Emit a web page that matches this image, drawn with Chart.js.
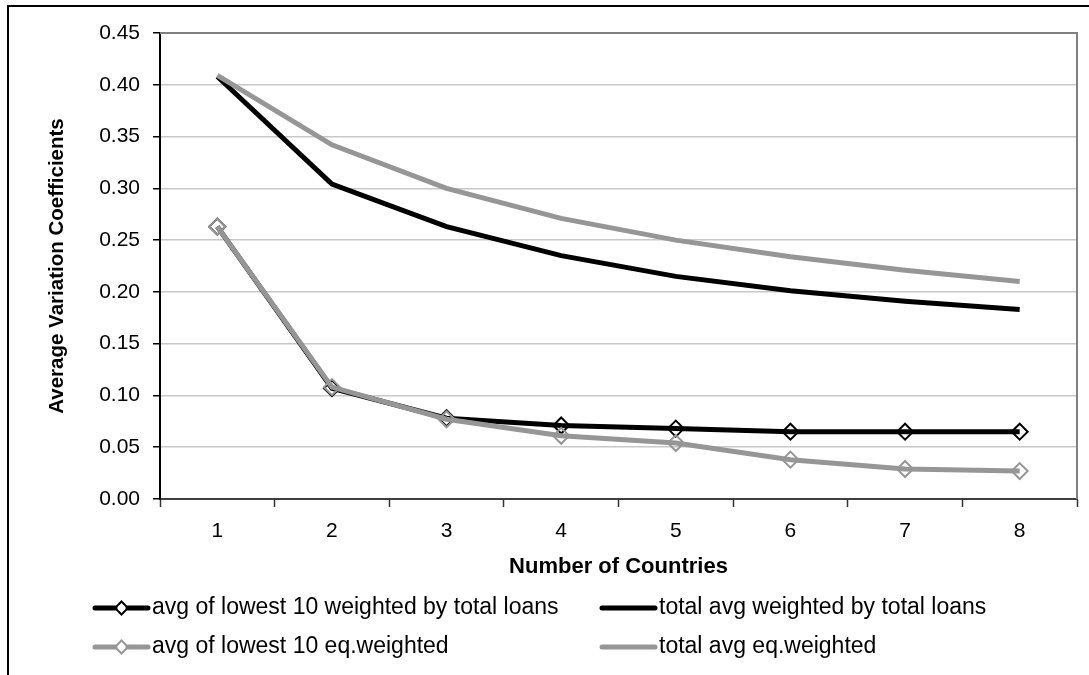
<!DOCTYPE html>
<html>
<head>
<meta charset="utf-8">
<script src="https://cdn.jsdelivr.net/npm/chart.js@4"></script>
<style>
  html, body { margin: 0; padding: 0; background: #fff; }
  canvas { display: block; }
</style>
</head>
<body>
<canvas id="chart" width="1089" height="675"></canvas>
<script>
// Number of countries (x categories)
const countries = ['1', '2', '3', '4', '5', '6', '7', '8'];

// Series values
const lowestWeighted = [0.263, 0.107, 0.078, 0.071, 0.068, 0.065, 0.065, 0.065];
const totalWeighted  = [0.408, 0.304, 0.263, 0.235, 0.215, 0.201, 0.191, 0.183];
const lowestEq       = [0.263, 0.108, 0.077, 0.061, 0.054, 0.038, 0.029, 0.027];
const totalEq        = [0.409, 0.342, 0.300, 0.271, 0.250, 0.234, 0.221, 0.210];

const seriesLabels = [
  'avg of lowest 10 weighted by total loans',
  'total avg weighted by total loans',
  'avg of lowest 10 eq.weighted',
  'total avg eq.weighted'
];

const BLACK = '#000000';
const GREY = '#969696';
const FONT = "'Liberation Sans', Arial, sans-serif";

// Outer frame (left + top edges only are visible) and plot border
const framePlugin = {
  id: 'frame',
  beforeDraw(chart) {
    const ctx = chart.ctx;
    ctx.save();
    ctx.fillStyle = '#fff';
    ctx.fillRect(0, 0, chart.width, chart.height);
    ctx.strokeStyle = '#000';
    ctx.lineWidth = 2;
    ctx.beginPath();
    ctx.moveTo(8, chart.height);
    ctx.lineTo(8, 6);
    ctx.lineTo(chart.width, 6);
    ctx.stroke();
    ctx.restore();
  },
  beforeDatasetsDraw(chart) {
    const { ctx, chartArea } = chart;
    ctx.save();
    ctx.strokeStyle = '#808080';
    ctx.lineWidth = 2;
    ctx.beginPath();
    ctx.moveTo(chartArea.left, chartArea.top);
    ctx.lineTo(chartArea.right, chartArea.top);
    ctx.lineTo(chartArea.right, chartArea.bottom);
    ctx.stroke();
    ctx.restore();
  }
};

// Two-column legend like the Excel original
const legendPlugin = {
  id: 'gridLegend',
  afterDraw(chart) {
    const ctx = chart.ctx;
    const colX = [95, 602];
    const rowY = [608, 647];
    ctx.save();
    ctx.font = `23px ${FONT}`;
    ctx.textBaseline = 'middle';
    ctx.textAlign = 'left';
    chart.data.datasets.forEach((ds, i) => {
      const x0 = colX[i % 2];
      const y = rowY[Math.floor(i / 2)];
      const x1 = x0 + 53;
      const cx = (x0 + x1) / 2;
      const r = 6.5;
      ctx.strokeStyle = ds.borderColor;
      ctx.lineWidth = 5;
      ctx.lineCap = 'round';
      ctx.beginPath();
      if (ds.pointStyle === 'rectRot') {
        ctx.moveTo(x0, y); ctx.lineTo(cx - r, y);
        ctx.moveTo(cx + r, y); ctx.lineTo(x1, y);
      } else {
        ctx.moveTo(x0, y); ctx.lineTo(x1, y);
      }
      ctx.stroke();
      if (ds.pointStyle === 'rectRot') {
        ctx.lineWidth = 2;
        ctx.lineCap = 'butt';
        ctx.beginPath();
        ctx.moveTo(cx, y - r);
        ctx.lineTo(cx + r, y);
        ctx.lineTo(cx, y + r);
        ctx.lineTo(cx - r, y);
        ctx.closePath();
        ctx.stroke();
      }
      ctx.fillStyle = '#000';
      ctx.fillText(ds.label, x1 + 4, y);
    });
    ctx.restore();
  }
};

function lineSeries(label, data, color, marker, order) {
  return {
    label,
    data,
    borderColor: color,
    backgroundColor: 'rgba(0,0,0,0)',
    borderWidth: 5,
    tension: 0,
    fill: false,
    order,
    pointStyle: marker ? 'rectRot' : 'circle',
    pointRadius: marker ? 8 : 0,
    pointHoverRadius: marker ? 8 : 0,
    pointBorderWidth: 2,
    pointBorderColor: color,
    pointBackgroundColor: 'rgba(0,0,0,0)'
  };
}

new Chart(document.getElementById('chart'), {
  type: 'line',
  data: {
    labels: countries,
    datasets: [
      lineSeries(seriesLabels[0], lowestWeighted, BLACK, true, 1),
      lineSeries(seriesLabels[1], totalWeighted, BLACK, false, 1),
      lineSeries(seriesLabels[2], lowestEq, GREY, true, 0),
      lineSeries(seriesLabels[3], totalEq, GREY, false, 0)
    ]
  },
  options: {
    responsive: false,
    animation: false,
    devicePixelRatio: 1,
    layout: { padding: { left: 0, top: 33, right: 12, bottom: 95 } },
    plugins: {
      legend: { display: false },
      tooltip: { enabled: false }
    },
    scales: {
      x: {
        offset: true,
        afterFit(scale) { scale.height = 81; },
        grid: {
          offset: true,
          drawOnChartArea: false,
          drawTicks: true,
          tickLength: 8,
          tickColor: '#333',
          tickWidth: 1.5
        },
        border: { color: '#404040', width: 2 },
        ticks: {
          color: '#000',
          padding: 12,
          font: { family: FONT, size: 21 },
          maxRotation: 0
        },
        title: {
          display: true,
          text: 'Number of Countries',
          color: '#000',
          padding: { top: 0, bottom: 0 },
          font: { family: FONT, size: 22, weight: 'bold' }
        }
      },
      y: {
        min: 0,
        max: 0.45,
        afterFit(scale) { scale.width = 160; },
        grid: {
          color: '#c8c8c8',
          lineWidth: 1.5,
          tickLength: 7,
          tickColor: '#000',
          tickWidth: 1.5
        },
        border: { color: '#000', width: 2 },
        ticks: {
          stepSize: 0.05,
          color: '#000',
          padding: 13,
          font: { family: FONT, size: 21 },
          callback: v => Number(v).toFixed(2)
        },
        title: {
          display: true,
          text: 'Average Variation Coefficients',
          color: '#000',
          padding: { top: 45, bottom: 0 },
          font: { family: FONT, size: 20.5, weight: 'bold' }
        }
      }
    }
  },
  plugins: [framePlugin, legendPlugin]
});
</script>
</body>
</html>
